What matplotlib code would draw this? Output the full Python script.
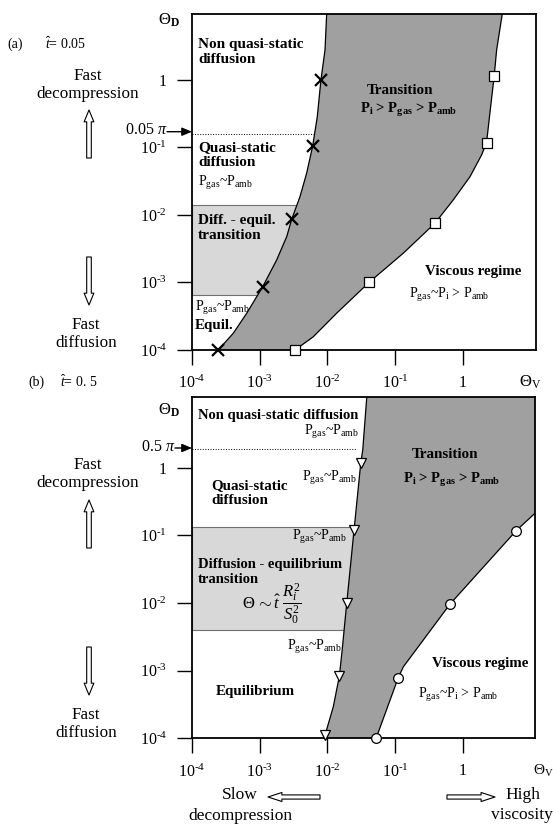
import numpy as np
import matplotlib
matplotlib.use('Agg')
import matplotlib.pyplot as plt

plt.rcParams['font.family'] = 'Liberation Serif'
plt.rcParams['mathtext.fontset'] = 'custom'
plt.rcParams['mathtext.rm'] = 'Liberation Serif'
plt.rcParams['mathtext.it'] = 'Liberation Serif:italic'
plt.rcParams['mathtext.bf'] = 'Liberation Serif:bold'

W, H = 553, 827

# axis ticks (both panels)
decades = [1e-4, 1e-3, 1e-2, 1e-1, 1]
tick_labels = [r'$10^{\text{-4}}$', r'$10^{\text{-3}}$', r'$10^{\text{-2}}$',
               r'$10^{\text{-1}}$', '1']

# ---- panel (a), t = 0.05 ----
a_xlim = (1e-4, 11.9)
a_ylim = (1e-4, 9.5)
# left edge of the transition zone (diffusion limit)
a_left_x = [0.00977, 0.00923, 0.00804, 0.00710, 0.00607, 0.00494, 0.00394,
            0.00297, 0.00251, 0.00178, 0.00111, 0.000643, 0.000407, 0.000244]
a_left_y = [9.5, 2.78, 1.0, 0.286, 0.105, 0.0415, 0.0187,
            0.00863, 0.00478, 0.00215, 0.000867, 0.00035, 0.000177, 0.0001]
# right edge (viscous limit)
a_right_x = [3.84, 3.17, 2.92, 2.52, 2.25, 1.90, 1.28,
             0.724, 0.388, 0.132, 0.0416, 0.0137, 0.00619, 0.00332]
a_right_y = [9.5, 2.78, 1.15, 0.321, 0.118, 0.0774, 0.0369,
             0.0167, 0.00753, 0.00271, 0.00101, 0.00035, 0.000157, 0.0001]
a_cross_x = [0.00804, 0.00607, 0.00297, 0.00111, 0.000244]
a_cross_y = [1.0, 0.105, 0.00863, 0.000867, 0.0001]
a_square_x = [2.92, 2.25, 0.388, 0.0416, 0.00332]
a_square_y = [1.15, 0.118, 0.00753, 0.00101, 0.0001]
a_band = (6.5e-4, 0.0141)      # diffusion - equilibrium transition
a_pi_level = 0.05 * np.pi

# ---- panel (b), t = 0.5 ----
b_xlim = (1e-4, 11.6)
b_ylim = (1e-4, 11.2)
b_left_x = [0.0381, 0.0332, 0.0310, 0.0247, 0.0193, 0.0163, 0.0150, 0.0122,
            0.00923, 0.0090]
b_left_y = [11.2, 1.83, 1.16, 0.120, 0.0101, 0.0018, 0.000834, 0.000293,
            0.000112, 0.0001]
b_right_x = [0.0523, 0.111, 0.132, 0.647, 6.11, 11.6]
b_right_y = [0.0001, 0.000787, 0.00114, 0.00966, 0.117, 0.212]
b_tri_x = [0.0310, 0.0247, 0.0193, 0.0150, 0.00923]
b_tri_y = [1.16, 0.120, 0.0101, 0.000834, 0.000112]
b_circ_x = [6.11, 0.647, 0.111, 0.0523]
b_circ_y = [0.117, 0.00966, 0.000787, 0.0001]
b_band = (0.0040, 0.134)
b_pi_level = 1.9

dark = '#a0a0a0'
light = '#d8d8d8'

fig = plt.figure(figsize=(W / 100, H / 100), dpi=100)
axa = fig.add_axes([192 / W, 1 - 350 / H, 343.5 / W, 336 / H])
axb = fig.add_axes([192 / W, 1 - 738.3 / H, 343 / W, 341.6 / H])


def fx(px):
    return px / W


def fy(py):
    return 1 - py / H


def setup(ax, xlim, ylim):
    ax.set_xscale('log')
    ax.set_yscale('log')
    ax.set_xlim(*xlim)
    ax.set_ylim(*ylim)
    ax.set_xticks(decades)
    ax.set_xticklabels(tick_labels)
    ax.set_yticks(decades)
    ax.set_yticklabels(tick_labels)
    ax.minorticks_off()
    ax.tick_params(direction='out', length=11, width=1, labelsize=11.5,
                   top=False, right=False)
    ax.tick_params(axis='y', pad=7)
    ax.tick_params(axis='x', pad=7)
    for s in ax.spines.values():
        s.set_linewidth(1.3)


def zone(ax, lx, ly, rx, ry, corner):
    px = list(lx) + list(rx) + corner[0]
    py = list(ly) + list(ry) + corner[1]
    ax.fill(px, py, color=dark, lw=0, zorder=2)
    ax.plot(lx, ly, color='k', lw=0.9, zorder=3)
    ax.plot(rx, ry, color='k', lw=0.9, zorder=3)


# panel (a)
setup(axa, a_xlim, a_ylim)
axa.fill_betweenx(a_band, a_xlim[0], 0.005, color=light, ec='#707070', lw=0.8, zorder=1)
axa.plot([a_xlim[0], 0.0078], [a_pi_level, a_pi_level], ls=':', color='k', lw=0.7, zorder=1)
zone(axa, a_left_x, a_left_y, a_right_x[::-1], a_right_y[::-1], ([], []))
axa.plot(a_cross_x, a_cross_y, 'x', color='k', ms=8, mew=1.6, zorder=4, clip_on=False)
axa.plot(a_square_x, a_square_y, 's', mfc='white', mec='k', ms=6.5, mew=0.9, zorder=4, clip_on=False)

# panel (b)
setup(axb, b_xlim, b_ylim)
axb.fill_betweenx(b_band, b_xlim[0], 0.1, color=light, ec='#707070', lw=0.8, zorder=1)
axb.plot([b_xlim[0], 0.027], [b_pi_level, b_pi_level], ls=':', color='k', lw=0.7, zorder=1)
zone(axb, b_left_x, b_left_y, b_right_x, b_right_y, ([b_xlim[1]], [b_ylim[1]]))
axb.plot(b_tri_x, b_tri_y, 'v', mfc='white', mec='k', ms=6.5, mew=0.9, zorder=4, clip_on=False)
axb.plot(b_circ_x, b_circ_y, 'o', mfc='white', mec='k', ms=7, mew=0.9, zorder=4, clip_on=False)


def T(x, y, s, size=10, ha='left', weight='normal', **kw):
    fig.text(fx(x), fy(y), s, fontsize=size, ha=ha, va='center',
             fontweight=weight, **kw)


def arrow(x0, y0, x1, y1, style, fc='white', lw=0.8):
    axa.annotate('', xy=(fx(x1), fy(y1)), xycoords='figure fraction',
                 xytext=(fx(x0), fy(y0)), textcoords='figure fraction',
                 arrowprops=dict(arrowstyle=style, fc=fc, ec='k', lw=lw,
                                 shrinkA=0, shrinkB=0, mutation_scale=1),
                 annotation_clip=False)


pgas = r'P$_{\mathrm{gas}}$~P$_{\mathrm{amb}}$'
pvisc = r'P$_{\mathrm{gas}}$~P$_{\mathrm{i}}$ > P$_{\mathrm{amb}}$'
ptrans = r'$\mathbf{P_{i}}$ > $\mathbf{P_{gas}}$ > $\mathbf{P_{amb}}$'
big = 'simple,head_length=8.5,head_width=7,tail_width=3.3'
flat = 'simple,head_length=10,head_width=6.5,tail_width=3'
pi_arrow = '-|>,head_length=6,head_width=2.5'
bl = 10.8   # size of the bold zone labels

# ---- texts panel (a) ----
T(7, 44, '(a)', 10)
T(45, 44, r'$\hat{t}$= 0.05', 10)
T(88, 85, 'Fast\ndecompression', 12.3, ha='center', linespacing=1.15)
T(86, 334, 'Fast\ndiffusion', 12.3, ha='center', linespacing=1.15)
arrow(89, 158, 89, 110, big)
arrow(89, 257, 89, 305, big)
T(158, 20, r'$\Theta_{\mathbf{D}}$', 12)
T(167, 130, r'0.05 $\pi$', 11.5, ha='right')
arrow(167, 131.7, 192, 131.7, pi_arrow, fc='k', lw=1)
T(198, 52, 'Non quasi-static\ndiffusion', 11, weight='bold', linespacing=1.2)
T(198, 155, 'Quasi-static\ndiffusion', 11, weight='bold', linespacing=1.15)
T(198, 183, pgas, 10)
T(198, 228, 'Diff. - equil.\ntransition', 11, weight='bold', linespacing=1.15)
T(195, 308, pgas, 10)
T(195, 325, 'Equil.', bl, weight='bold')
T(400, 90, 'Transition', bl, ha='center', weight='bold')
T(409, 110, ptrans, 10.5, ha='center', weight='bold')
T(473, 272, 'Viscous regime', bl, ha='center', weight='bold')
T(449, 295, pvisc, 10, ha='center')
T(530, 382, r'$\Theta_{\mathrm{V}}$', 12, ha='center')

# ---- texts panel (b) ----
T(28, 382, '(b)', 10)
T(60, 382, r'$\hat{t}$= 0. 5', 10)
T(88, 474, 'Fast\ndecompression', 12.3, ha='center', linespacing=1.15)
T(86, 724, 'Fast\ndiffusion', 12.3, ha='center', linespacing=1.15)
arrow(89, 548, 89, 500, big)
arrow(89, 647, 89, 695, big)
T(158, 410, r'$\Theta_{\mathbf{D}}$', 12)
T(175, 447, r'0.5 $\pi$', 11.5, ha='right')
arrow(175, 448, 192, 448, pi_arrow, fc='k', lw=1)
T(198, 415, 'Non quasi-static diffusion', 10.5, weight='bold')
T(359, 432, pgas, 10, ha='right')
T(211, 493, 'Quasi-static\ndiffusion', bl, weight='bold', linespacing=1.1)
T(302, 478, pgas, 10)
T(292, 537, pgas, 10)
T(198, 572, 'Diffusion - equilibrium\ntransition', 10.5, weight='bold', linespacing=1.2)
T(272, 604, r'$\Theta\,\sim\hat{t}\ \dfrac{R_i^2}{S_0^2}$', 12, ha='center')
T(287, 647, pgas, 10)
T(216, 692, 'Equilibrium', bl, weight='bold')
T(445, 455, 'Transition', bl, ha='center', weight='bold')
T(452, 480, ptrans, 10.5, ha='center', weight='bold')
T(480, 663, 'Viscous regime', bl, ha='center', weight='bold')
T(458, 695, pvisc, 10, ha='center')
T(533, 771, r'$\Theta_{\mathrm{V}}$', 11, ha='left')
T(240, 795, 'Slow', 12.5, ha='center')
T(240, 816, 'decompression', 12.5, ha='center')
arrow(320, 797, 268, 797, flat)
T(523, 795, 'High', 12.5, ha='center')
T(522, 815, 'viscosity', 12.5, ha='center')
arrow(447, 797, 495, 797, flat)

fig.savefig('out.png', dpi=100)
